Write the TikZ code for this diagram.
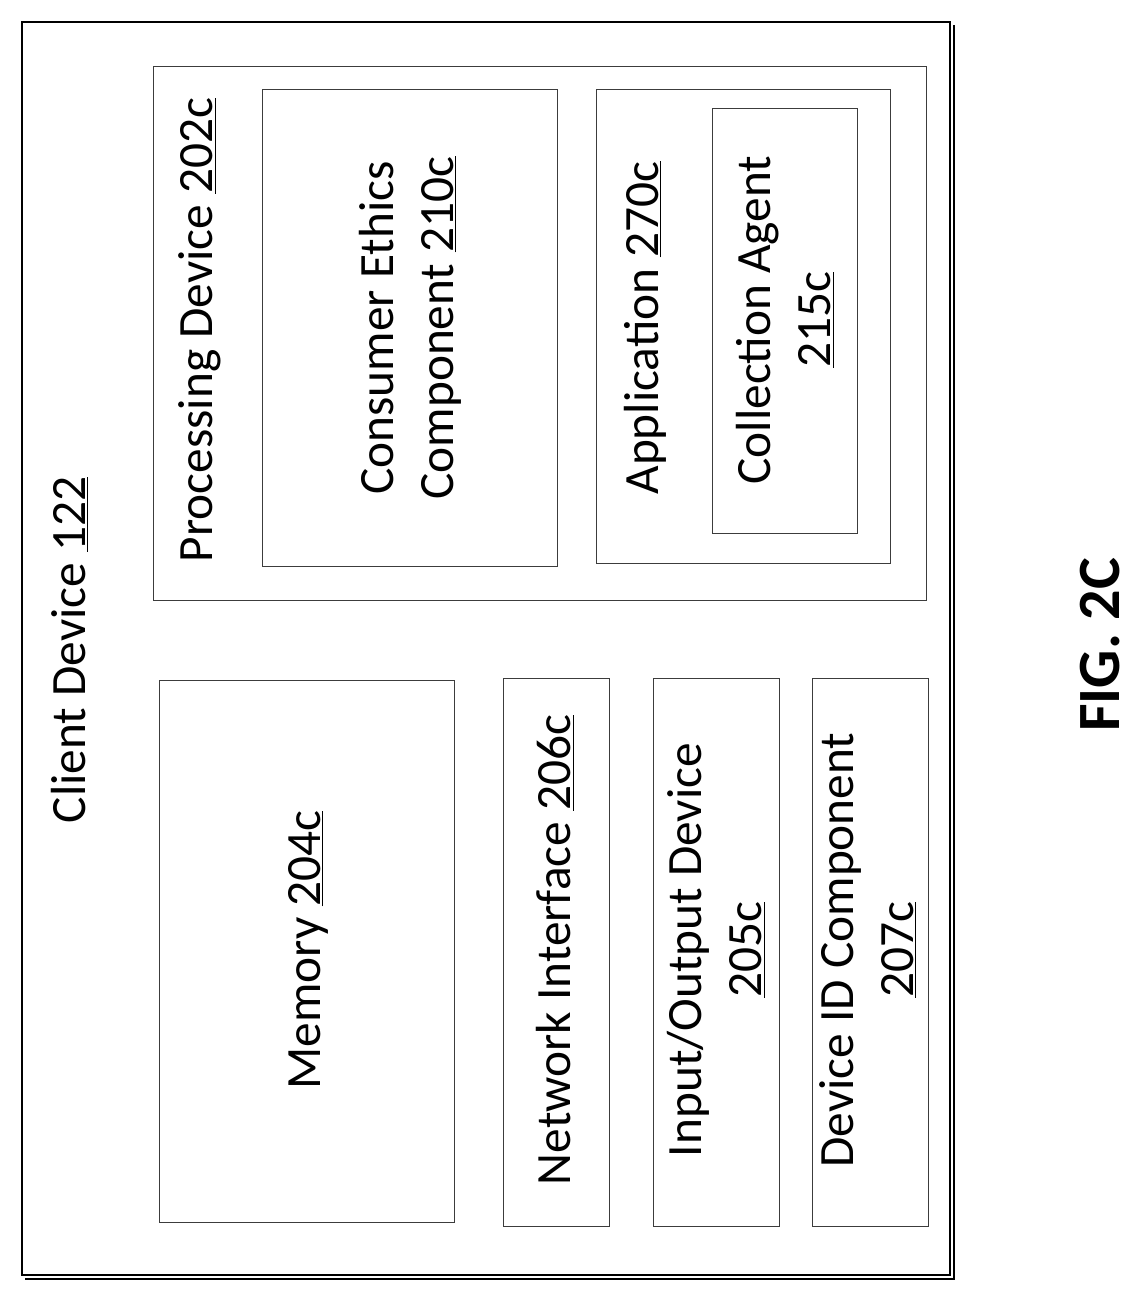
\documentclass[tikz,border=0pt]{standalone}
\usepackage{fontspec}
\setmainfont{Carlito}
\newcommand{\refnum}[1]{\underline{#1}}
\tikzset{every picture/.style={line width=0.75pt}}
\tikzset{lbl/.style={rotate=90,align=center,font=\fontsize{37}{45}\selectfont}}
\begin{document}
\begin{tikzpicture}[x=0.75pt,y=0.75pt,yscale=-1,xscale=1]
\useasboundingbox (0,0) rectangle (1138,1296);

%Outer box
\draw [line width=1.5pt] (22,22) rectangle (950,1275) ;
\draw [line width=1pt] (25,1279) -- (954,1279) -- (954,25) ;
%Processing device
\draw [color={rgb, 255:red, 60; green, 60; blue, 60 }] (153,66) rectangle (926,600) ;
\draw [color={rgb, 255:red, 60; green, 60; blue, 60 }] (262,89) rectangle (557,566) ;
\draw [color={rgb, 255:red, 60; green, 60; blue, 60 }] (596,89) rectangle (890,563) ;
\draw [color={rgb, 255:red, 60; green, 60; blue, 60 }] (712,108) rectangle (857,533) ;
%Lower boxes
\draw [color={rgb, 255:red, 60; green, 60; blue, 60 }] (159,680) rectangle (454,1222) ;
\draw [color={rgb, 255:red, 60; green, 60; blue, 60 }] (503,678) rectangle (609,1226) ;
\draw [color={rgb, 255:red, 60; green, 60; blue, 60 }] (653,678) rectangle (779,1226) ;
\draw [color={rgb, 255:red, 60; green, 60; blue, 60 }] (812,678) rectangle (928,1226) ;

% Text Node
\node (client) at (70,650) [lbl] {Client Device \refnum{122}};
% Text Node
\node (proc) at (200,330) [lbl] {Processing Device \refnum{202c}};
% Text Node
\node (ethics) at (410,328) [lbl] {Consumer Ethics\\Component \refnum{210c}};
% Text Node
\node (app) at (645,328) [lbl] {Application \refnum{270c}};
% Text Node
\node (agent) at (785,320) [lbl] {Collection Agent\\\refnum{215c}};
% Text Node
\node (mem) at (308,950) [lbl] {Memory \refnum{204c}};
% Text Node
\node (net) at (555,950) [lbl] {Network Interface \refnum{206c}};
% Text Node
\node (io) at (716,950) [lbl] {Input/Output Device\\\refnum{205c}};
% Text Node
\node (devid) at (868,950) [lbl] {Device ID Component\\\refnum{207c}};
% Text Node
\node (fig) at (1100,645) [rotate=90,inner sep=0pt,font=\fontsize{45}{50}\selectfont\bfseries] {FIG. 2C};

\end{tikzpicture}
\end{document}
